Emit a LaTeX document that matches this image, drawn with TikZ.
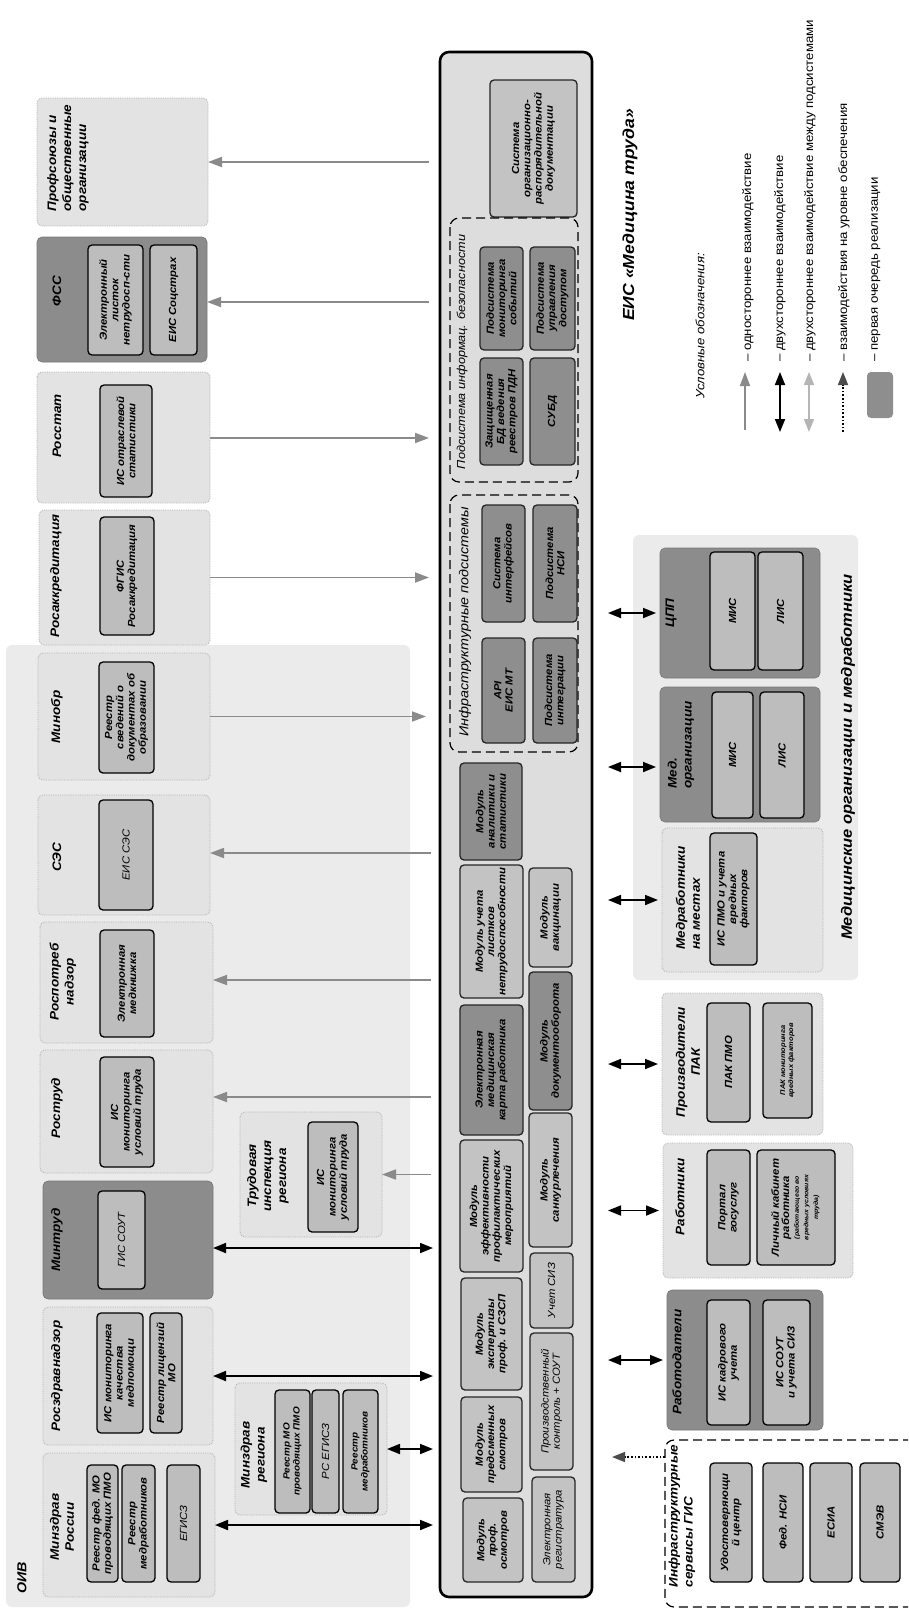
\documentclass[tikz,border=0pt]{standalone}
\usepackage{fontspec}
\setmainfont{Liberation Sans}[FakeStretch=1.1]
\usetikzlibrary{arrows.meta}
\definecolor{regionc}{HTML}{EBEBEB}
\definecolor{lightorg}{HTML}{E3E3E3}
\definecolor{orgborder}{HTML}{B0B0B0}
\definecolor{darkorg}{HTML}{8C8C8C}
\definecolor{innerc}{HTML}{BDBDBD}
\definecolor{eisc}{HTML}{DDDDDD}
\definecolor{modlight}{HTML}{C3C3C3}
\definecolor{moddark}{HTML}{8E8E8E}
\definecolor{arrgray}{HTML}{8A8A8A}
\definecolor{arrlight}{HTML}{B5B5B5}
\newcommand\innerfont{\fontsize{10.3}{11.3}\selectfont\bfseries\itshape}
\newcommand\inneritfont{\fontsize{10.3}{11.3}\selectfont\itshape}
\newcommand\ttlfont{\fontsize{12.3}{15}\selectfont\bfseries\itshape}
\newcommand\mybx[7]{\node[#1, minimum width={#6pt-#4pt}, minimum height={#5pt-#3pt}] (#2) at ({(#3+#5)/2},{(#4+#6)/2}) {#7};}
\begin{document}
\begin{tikzpicture}[x=1pt,y=-1pt,
  every node/.append style={rotate=90},
  region/.style={fill=regionc, draw=none, rounded corners=6pt, inner sep=0pt, outer sep=0pt},
  orglt/.style={fill=lightorg, draw=orgborder, densely dotted, line width=0.8pt, rounded corners=5pt, inner sep=0pt, outer sep=0pt},
  orgdk/.style={fill=darkorg, draw=darkorg!85!black, line width=0.6pt, rounded corners=5pt, inner sep=0pt, outer sep=0pt},
  inbox/.style={fill=innerc, draw=black, line width=1.3pt, rounded corners=4pt, inner sep=1pt, outer sep=0pt, align=center, font=\innerfont},
  eisbox/.style={fill=eisc, draw=black, line width=2.6pt, rounded corners=9pt, inner sep=0pt, outer sep=0pt},
  modlt/.style={fill=modlight, draw=black!85, line width=1.3pt, rounded corners=4pt, inner sep=1pt, outer sep=0pt, align=center, font=\innerfont},
  moddk/.style={modlt, fill=moddark},
  grp/.style={draw=black, line width=1.2pt, dash pattern=on 9pt off 5pt, rounded corners=9pt, inner sep=0pt, outer sep=0pt},
  ttl/.style={font=\ttlfont, inner sep=0pt, align=center},
  grpttl/.style={font=\fontsize{11.5}{13}\selectfont\itshape, inner sep=0pt},
  legtxt/.style={font=\fontsize{12}{13}\selectfont, inner sep=0pt, anchor=west},
  onearrow/.style={draw=arrgray, line width=1.8pt, -{Triangle[length=14pt,width=10pt]}},
  twoarrow/.style={draw=black, line width=1.8pt, {Triangle[length=13pt,width=10pt]}-{Triangle[length=13pt,width=10pt]}},
  lightarrow/.style={draw=arrlight, line width=1.8pt, {Triangle[length=13pt,width=10pt]}-{Triangle[length=13pt,width=10pt]}},
  dotarrow/.style={draw=black, line width=1.6pt, dotted, -{Triangle[length=13pt,width=10pt,color=black!70]}}
]
\useasboundingbox (0,0) rectangle (908,1611);
\clip (0,0) rectangle (908,1611);

% ---------- regions ----------
\mybx{region}{oiv}{6}{645}{410}{1607}{}
\node[ttl, font=\fontsize{13}{15}\selectfont\bfseries\itshape] (t-oiv) at (22,1578) {ОИВ};
\mybx{region}{medreg}{633}{535}{858}{980}{}
\node[ttl, font=\fontsize{15}{17}\selectfont\bfseries\itshape] (t-medreg) at (848,757) {Медицинские организации и медработники};

% ---------- top organisations ----------
\mybx{orglt}{prof}{37}{98}{208}{226}{}
\node[ttl, align=left] (t-prof) at (68,158) {Профсоюзы и\\общественные\\организации};

\mybx{orgdk}{fss}{37}{237}{207}{362}{}
\node[ttl] (t-fss) at (57,291) {ФСС};
\mybx{inbox}{fss1}{88}{245}{143}{355}{Электронный\\листок\\нетрудосп-сти}
\mybx{inbox}{fss2}{150}{245}{197}{355}{ЕИС Соцстрах}

\mybx{orglt}{rosstat}{37}{372}{210}{503}{}
\node[ttl] (t-rosstat) at (57,426) {Росстат};
\mybx{inbox}{rosstat1}{100}{385}{152}{497}{ИС отраслевой\\статистики}

\mybx{orglt}{rosakk}{39}{510}{210}{645}{}
\node[ttl] (t-rosakk) at (56,576) {Росаккредитация};
\mybx{inbox}{rosakk1}{100}{517}{154}{635}{ФГИС\\Росаккредитация}

\mybx{orglt}{minobr}{38}{653}{210}{780}{}
\node[ttl] (t-minobr) at (57,717) {Минобр};
\mybx{inbox}{minobr1}{99}{662}{154}{773}{Реестр\\сведений о\\документах об\\образовании}

\mybx{orglt}{ses}{38}{795}{210}{915}{}
\node[ttl] (t-ses) at (57,857) {СЭС};
\mybx{inbox, font=\inneritfont}{ses1}{99}{800}{153}{910}{ЕИС СЭС}

\mybx{orglt}{rpn}{40}{922}{213}{1043}{}
\node[ttl] (t-rpn) at (63,982) {Роспотреб\\надзор};
\mybx{inbox}{rpn1}{100}{930}{154}{1037}{Электронная\\медкнижка}

\mybx{orglt}{rostrud}{40}{1050}{213}{1173}{}
\node[ttl] (t-rostrud) at (57,1108) {Роструд};
\mybx{inbox}{rostrud1}{100}{1057}{154}{1167}{ИС\\мониторинга\\условий труда}

\mybx{orgdk}{mintrud}{43}{1181}{213}{1299}{}
\node[ttl] (t-mintrud) at (57,1240) {Минтруд};
\mybx{inbox, font=\inneritfont}{mintrud1}{98}{1191}{145}{1289}{ГИС СОУТ}

\mybx{orglt}{rzn}{43}{1307}{213}{1445}{}
\node[ttl] (t-rzn) at (57,1376) {Росздравнадзор};
\mybx{inbox}{rzn1}{97}{1313}{143}{1433}{ИС мониторинга\\качества\\медпомощи}
\mybx{inbox}{rzn2}{150}{1313}{182}{1433}{Реестр лицензий\\МО}

\mybx{orglt}{mzrf}{43}{1453}{215}{1597}{}
\node[ttl] (t-mzrf) at (62,1527) {Минздрав\\России};
\mybx{inbox}{mzrf1}{87}{1465}{118}{1582}{Реестр фед. МО\\проводящих ПМО}
\mybx{inbox}{mzrf2}{122}{1465}{155}{1582}{Реестр\\медработников}
\mybx{inbox, font=\inneritfont}{mzrf3}{167}{1465}{200}{1582}{ЕГИСЗ}

\mybx{orglt}{trud}{240}{1112}{382}{1237}{}
\node[ttl] (t-trud) at (268,1176) {Трудовая\\инспекция\\региона};
\mybx{inbox}{trud1}{308}{1122}{358}{1232}{ИС\\мониторинга\\условий труда}

\mybx{orglt}{mzr}{235}{1383}{387}{1515}{}
\node[ttl] (t-mzr) at (254,1455) {Минздрав\\региона};
\mybx{inbox, font=\fontsize{9}{10}\selectfont\bfseries\itshape}{mzr1}{275}{1390}{310}{1513}{Реестр МО\\проводящих ПМО}
\mybx{inbox, font=\inneritfont}{mzr2}{312}{1390}{339}{1513}{РС ЕГИСЗ}
\mybx{inbox, font=\fontsize{9}{10}\selectfont\bfseries\itshape}{mzr3}{343}{1390}{378}{1513}{Реестр\\медработников}

% ---------- EIS ----------
\mybx{eisbox}{eis}{440}{52}{592}{1597}{}
\node[ttl, font=\fontsize{16}{18}\selectfont\bfseries\itshape] (t-eis) at (630,215) {ЕИС «Медицина труда»};

\mybx{modlt}{sord}{490}{80}{577}{217}{Система\\организационно-\\распорядительной\\документации}

\mybx{grp}{isec}{450}{218}{578}{482}{}
\node[grpttl] (t-isec) at (462,352) {Подсистема информац. безопасности};
\mybx{moddk}{mon}{480}{247}{523}{350}{Подсистема\\мониторинга\\событий}
\mybx{moddk}{acc}{530}{247}{575}{350}{Подсистема\\управления\\доступом}
\mybx{moddk}{pdn}{480}{358}{523}{465}{Защищенная\\БД ведения\\реестров ПДН}
\mybx{moddk}{subd}{530}{358}{575}{465}{СУБД}

\mybx{grp}{infra}{450}{495}{578}{752}{}
\node[grpttl, font=\fontsize{13}{15}\selectfont\itshape] (t-infra) at (465,622) {Инфраструктурные подсистемы};
\mybx{moddk}{intf}{482}{505}{525}{622}{Система\\интерфейсов}
\mybx{moddk}{nsi}{533}{505}{577}{622}{Подсистема\\НСИ}
\mybx{moddk}{api}{482}{638}{525}{743}{API\\ЕИС МТ}
\mybx{moddk}{integ}{533}{638}{577}{743}{Подсистема\\интеграции}

\mybx{moddk}{anal}{460}{763}{522}{860}{Модуль\\аналитики и\\статистики}
\mybx{modlt}{lnr}{460}{865}{523}{998}{Модуль учета\\листков\\нетрудоспособности}
\mybx{modlt}{vac}{529}{868}{572}{967}{Модуль\\вакцинации}
\mybx{moddk}{emk}{460}{1005}{523}{1135}{Электронная\\медицинская\\карта работника}
\mybx{moddk}{doc}{529}{972}{572}{1110}{Модуль\\документооборота}
\mybx{modlt}{eff}{460}{1140}{523}{1272}{Модуль\\эффективности\\профилактических\\мероприятий}
\mybx{modlt}{san}{529}{1113}{572}{1247}{Модуль\\санкурлечения}
\mybx{modlt, font=\inneritfont}{siz}{530}{1253}{573}{1328}{Учет СИЗ}
\mybx{modlt}{exper}{461}{1278}{522}{1390}{Модуль\\экспертизы\\проф. и СЗСП}
\mybx{modlt, font=\inneritfont}{pk}{530}{1333}{573}{1470}{Производственный\\контроль + СОУТ}
\mybx{modlt}{smen}{461}{1397}{522}{1492}{Модуль\\предсменных\\смотров}
\mybx{modlt}{profo}{463}{1498}{523}{1582}{Модуль\\проф.\\осмотров}
\mybx{modlt, font=\inneritfont}{regis}{532}{1477}{575}{1582}{Электронная\\регистратура}

% ---------- bottom organisations ----------
\mybx{orgdk}{cpp}{660}{548}{820}{678}{}
\node[ttl] (t-cpp) at (671,613) {ЦПП};
\mybx{inbox}{cpp1}{710}{552}{755}{670}{МИС}
\mybx{inbox}{cpp2}{758}{552}{803}{670}{ЛИС}

\mybx{orgdk}{medorg}{660}{687}{820}{822}{}
\node[ttl, align=left] (t-medorg) at (681,745) {Мед.\\организации};
\mybx{inbox}{medorg1}{712}{692}{753}{818}{МИС}
\mybx{inbox}{medorg2}{760}{692}{804}{818}{ЛИС}

\mybx{orglt}{medw}{662}{828}{823}{972}{}
\node[ttl, align=left] (t-medw) at (688,898) {Медработники\\на местах};
\mybx{inbox}{medw1}{710}{833}{757}{965}{ИС ПМО и учета\\вредных\\факторов}

\mybx{orglt}{pak}{662}{993}{823}{1135}{}
\node[ttl] (t-pak) at (688,1062) {Производители\\ПАК};
\mybx{inbox}{pak1}{707}{1003}{750}{1122}{ПАК ПМО}
\mybx{inbox, font=\fontsize{6.8}{7.8}\selectfont\bfseries\itshape}{pak2}{763}{1003}{812}{1118}{ПАК мониторинга\\вредных факторов}

\mybx{orglt}{rab}{663}{1143}{853}{1278}{}
\node[ttl] (t-rab) at (680,1197) {Работники};
\mybx{inbox}{rab1}{707}{1150}{750}{1265}{Портал\\госуслуг}
\mybx{inbox}{rab2}{757}{1150}{835}{1265}{\renewcommand\arraystretch{0.85}\begin{tabular}{@{}c@{}}Личный кабинет\\работника\\\fontsize{6.3}{7}\selectfont(работающего во\\\fontsize{6.3}{7}\selectfont вредных условиях\\\fontsize{6.3}{7}\selectfont труда)\end{tabular}}

\mybx{orgdk}{rabd}{667}{1290}{823}{1430}{}
\node[ttl] (t-rabd) at (677,1362) {Работодатели};
\mybx{inbox}{rabd1}{707}{1300}{750}{1425}{ИС кадрового\\учета}
\mybx{inbox}{rabd2}{763}{1300}{810}{1425}{ИС СОУТ\\и учета СИЗ}

\draw[grp] (912,1440) -- (665,1440) -- (665,1607) -- (912,1607);
\coordinate (gis) at (665,1457);
\node[ttl, align=left] (t-gis) at (682,1516) {Инфраструктурные\\сервисы ГИС};
\mybx{inbox}{gis1}{710}{1463}{752}{1582}{Удостоверяющи\\й центр}
\mybx{inbox}{gis2}{763}{1463}{803}{1582}{Фед. НСИ}
\mybx{inbox}{gis3}{810}{1463}{852}{1582}{ЕСИА}
\mybx{inbox}{gis4}{860}{1463}{900}{1582}{СМЭВ}

% ---------- connectors: top ----------
\draw[onearrow, shorten <=11pt] (eis.north |- prof) -- (prof.south);
\draw[onearrow, shorten <=11pt] (eis.north |- 0,302) -- (fss.south |- 0,302);
\draw[onearrow, shorten >=11pt] (rosstat.south |- 0,438) -- (eis.north |- 0,438);
\draw[onearrow, shorten >=11pt] (rosakk.south) -- (eis.north |- rosakk);
\draw[onearrow, shorten >=14pt] (minobr.south) -- (eis.north |- minobr);
\draw[onearrow, shorten <=9pt] (eis.north |- 0,853) -- (ses.south |- 0,853);
\draw[onearrow, shorten <=9pt] (eis.north |- 0,980) -- (rpn.south |- 0,980);
\draw[onearrow, shorten <=9pt] (eis.north |- 0,1097) -- (rostrud.south |- 0,1097);
\draw[onearrow, shorten <=9pt] (eis.north |- trud) -- (trud.south);
\draw[twoarrow, shorten >=7pt] (mintrud.south |- 0,1248) -- (eis.north |- 0,1248);
\draw[twoarrow, shorten >=7pt] (rzn.south) -- (eis.north |- rzn);
\draw[twoarrow, shorten >=7pt] (mzr.south) -- (eis.north |- mzr);
\draw[twoarrow, shorten >=7pt] (mzrf.south) -- (eis.north |- mzrf);

% ---------- connectors: bottom ----------
\draw[twoarrow, shorten <=16pt, shorten >=4pt] (eis.south |- cpp) -- (cpp.north);
\draw[twoarrow, shorten <=16pt, shorten >=4pt] (eis.south |- 0,767) -- (medorg.north |- 0,767);
\draw[twoarrow, shorten <=16pt, shorten >=4pt] (eis.south |- medw) -- (medw.north);
\draw[twoarrow, shorten <=16pt, shorten >=4pt] (eis.south |- pak) -- (pak.north);
\draw[twoarrow, shorten <=16pt, shorten >=4pt] (eis.south |- rab) -- (rab.north);
\draw[twoarrow, shorten <=16pt, shorten >=4pt] (eis.south |- rabd) -- (rabd.north);
\draw[dotarrow, shorten >=20pt] (gis) -- (eis.south |- gis);

% ---------- legend ----------
\node[font=\fontsize{12}{14}\selectfont\itshape, inner sep=0pt] (t-leg) at (700,326) {Условные обозначения:};
\coordinate (l1a) at (745,430); \coordinate (l1b) at (745,372);
\coordinate (l2a) at (780,432); \coordinate (l2b) at (780,372);
\coordinate (l3a) at (809,432); \coordinate (l3b) at (809,372);
\coordinate (l4a) at (843,432); \coordinate (l4b) at (843,372);
\draw[onearrow] (l1a) -- (l1b);
\draw[twoarrow] (l2a) -- (l2b);
\draw[lightarrow] (l3a) -- (l3b);
\draw[dotarrow] (l4a) -- (l4b);
\mybx{moddk, draw=none}{l5}{867}{372}{893}{418}{}
\node[legtxt] (lt1) at (748,362) {– одностороннее взаимодействие};
\node[legtxt] (lt2) at (780,362) {– двухстороннее взаимодействие};
\node[legtxt] (lt3) at (810,362) {– двухстороннее взаимодействие между подсистемами};
\node[legtxt] (lt4) at (844,362) {– взаимодействия на уровне обеспечения};
\node[legtxt] (lt5) at (876,362) {– первая очередь реализации};
\end{tikzpicture}
\end{document}
